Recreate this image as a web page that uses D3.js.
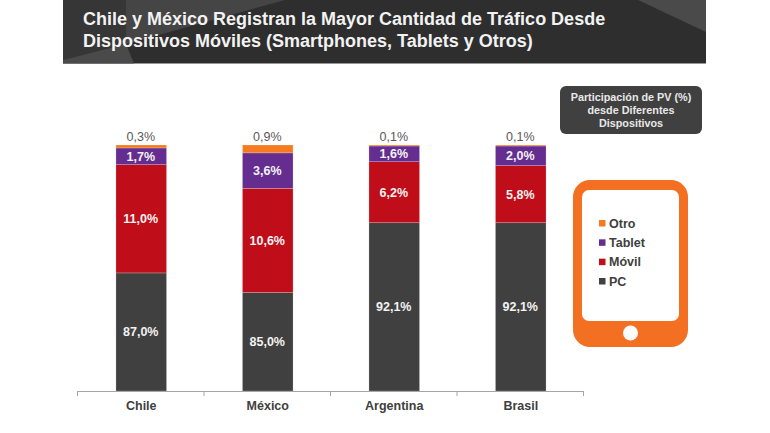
<!DOCTYPE html>
<html>
<head>
<meta charset="utf-8">
<script src="https://cdnjs.cloudflare.com/ajax/libs/d3/7.8.5/d3.min.js"></script>
<style>
  html, body { margin: 0; padding: 0; background: #fff; }
  svg { display: block; font-family: "Liberation Sans", Arial, sans-serif; font-weight: bold; }
  .axis path, .axis line { stroke: #a6a6a6; }
  .axis text { fill: #404040; font-size: 12.5px; font-weight: bold; font-family: "Liberation Sans", Arial, sans-serif; }
</style>
</head>
<body>
<div class="content"></div>
<script>
  var titleLines = ["Chile y México Registran la Mayor Cantidad de Tráfico Desde",
                    "Dispositivos Móviles (Smartphones, Tablets y Otros)"];
  var noteLines = ["Participación de PV (%)", "desde Diferentes", "Dispositivos"];

  var countries = ["Chile", "México", "Argentina", "Brasil"];
  var seriesNames = ["PC", "Móvil", "Tablet", "Otro"];
  var pc = [87.0, 85.0, 92.1, 92.1];
  var movil = [11.0, 10.6, 6.2, 5.8];
  var tablet = [1.7, 3.6, 1.6, 2.0];
  var otro = [0.3, 0.9, 0.1, 0.1];
  var colors = ["#404040", "#c00d1a", "#652d90", "#f47b20"];

  var width = 770, height = 433;

  var rows = countries.map(function(c, i) {
    return { country: c, "PC": pc[i], "Móvil": movil[i], "Tablet": tablet[i], "Otro": otro[i] };
  });

  var svg = d3.select(".content").append("svg")
      .attr("width", width)
      .attr("height", height);

  // header band
  var header = svg.append("g");
  header.append("rect")
      .attr("x", 63).attr("y", 0)
      .attr("width", 643).attr("height", 63.5)
      .attr("fill", "#2e2e2e");
  header.append("path").attr("d", "M63 0H126V44L63 60Z").attr("fill", "#363636");
  header.append("path").attr("d", "M126 0H285L126 44Z").attr("fill", "#454545");
  header.append("path").attr("d", "M63 60L126 44L134 63.5H63Z").attr("fill", "#4a4a4a");
  header.append("path").attr("d", "M638 0H706V32Z").attr("fill", "#4a4a4a");

  header.selectAll("text")
      .data(titleLines)
    .enter().append("text")
      .attr("x", 83)
      .attr("y", function(d, i) { return 25 + i * 21.5; })
      .attr("fill", "#f2f2f2")
      .style("font-size", "18px")
      .text(function(d) { return d; });

  // chart, the value axis starts at 75 in the original
  var xScale = d3.scaleBand()
      .domain(countries)
      .range([78, 584])
      .paddingInner(0.6)
      .paddingOuter(0.3);

  var yScale = d3.scaleLinear()
      .domain([75, 100])
      .range([391, 145])
      .clamp(true);

  var stacked = d3.stack().keys(seriesNames)(rows);

  var layer = svg.selectAll(".layer")
      .data(stacked)
    .enter().append("g")
      .attr("class", "layer")
      .attr("fill", function(d, i) { return colors[i]; });

  layer.selectAll("rect")
      .data(function(d) { return d; })
    .enter().append("rect")
      .attr("x", function(d) { return xScale(d.data.country); })
      .attr("y", function(d) { return yScale(d[1]); })
      .attr("width", xScale.bandwidth())
      .attr("height", function(d) { return yScale(d[0]) - yScale(d[1]); })
      .attr("stroke", "#ffffff")
      .attr("stroke-opacity", 0.35)
      .attr("stroke-width", 0.6);

  var formatPct = function(v) { return v.toFixed(1).replace(".", ",") + "%"; };

  // labels in the segments, Otro sits above the bar
  layer.selectAll("text")
      .data(function(d) { return d.map(function(p) { return { p: p, key: d.key }; }); })
    .enter().append("text")
      .attr("x", function(d) { return xScale(d.p.data.country) + xScale.bandwidth() / 2 - 0.5; })
      .attr("y", function(d) {
        if (d.key === "Otro") return yScale(100) - 4;
        return (yScale(d.p[0]) + yScale(d.p[1])) / 2 + 4.5;
      })
      .attr("text-anchor", "middle")
      .attr("fill", function(d) { return d.key === "Otro" ? "#595959" : "#f2f2f2"; })
      .style("font-size", "12.5px")
      .style("font-weight", function(d) { return d.key === "Otro" ? "normal" : "bold"; })
      .style("-webkit-text-stroke", function(d) { return d.key === "Otro" ? "0.3px #595959" : null; })
      .text(function(d) { return formatPct(d.p.data[d.key]); });

  // x axis
  var axis = svg.append("g")
      .attr("class", "axis")
      .attr("transform", "translate(0,391)")
      .call(d3.axisBottom(xScale).tickSize(0).tickPadding(10));
  axis.select(".domain").attr("d", "M77,0.5H584");

  var step = xScale.step();
  axis.selectAll(".sep")
      .data(d3.range(countries.length + 1))
    .enter().append("line")
      .attr("class", "sep")
      .attr("x1", function(d) { return 77.5 + d * step; })
      .attr("x2", function(d) { return 77.5 + d * step; })
      .attr("y1", 0)
      .attr("y2", 5);

  // note box
  var note = svg.append("g");
  note.append("rect")
      .attr("x", 560).attr("y", 86)
      .attr("width", 142).attr("height", 48)
      .attr("rx", 6)
      .attr("fill", "#404040");
  note.selectAll("text")
      .data(noteLines)
    .enter().append("text")
      .attr("x", 631)
      .attr("y", function(d, i) { return 101 + i * 13; })
      .attr("text-anchor", "middle")
      .attr("fill", "#e8e8e8")
      .style("font-size", "10.8px")
      .text(function(d) { return d; });

  // tablet shape with legend inside
  var device = svg.append("g");
  device.append("rect")
      .attr("x", 573).attr("y", 180)
      .attr("width", 115).attr("height", 167)
      .attr("rx", 17)
      .attr("fill", "#f36f21");
  device.append("rect")
      .attr("x", 582).attr("y", 190)
      .attr("width", 97).attr("height", 131)
      .attr("rx", 7)
      .attr("fill", "#ffffff");
  device.append("circle")
      .attr("cx", 630.5).attr("cy", 333)
      .attr("r", 7.5)
      .attr("fill", "#ffffff");

  var legendOrder = seriesNames.slice().reverse();
  var legendY = d3.scalePoint().domain(legendOrder).range([223, 281]);

  var legend = device.selectAll(".legend")
      .data(legendOrder)
    .enter().append("g")
      .attr("class", "legend");
  legend.append("rect")
      .attr("x", 599)
      .attr("y", function(d) { return legendY(d) - 3; })
      .attr("width", 6.5)
      .attr("height", 6.5)
      .attr("fill", function(d) { return colors[seriesNames.indexOf(d)]; });
  legend.append("text")
      .attr("x", 609)
      .attr("y", function(d) { return legendY(d) + 4.5; })
      .attr("fill", "#404040")
      .style("font-size", "12.5px")
      .text(function(d) { return d; });
</script>
</body>
</html>
